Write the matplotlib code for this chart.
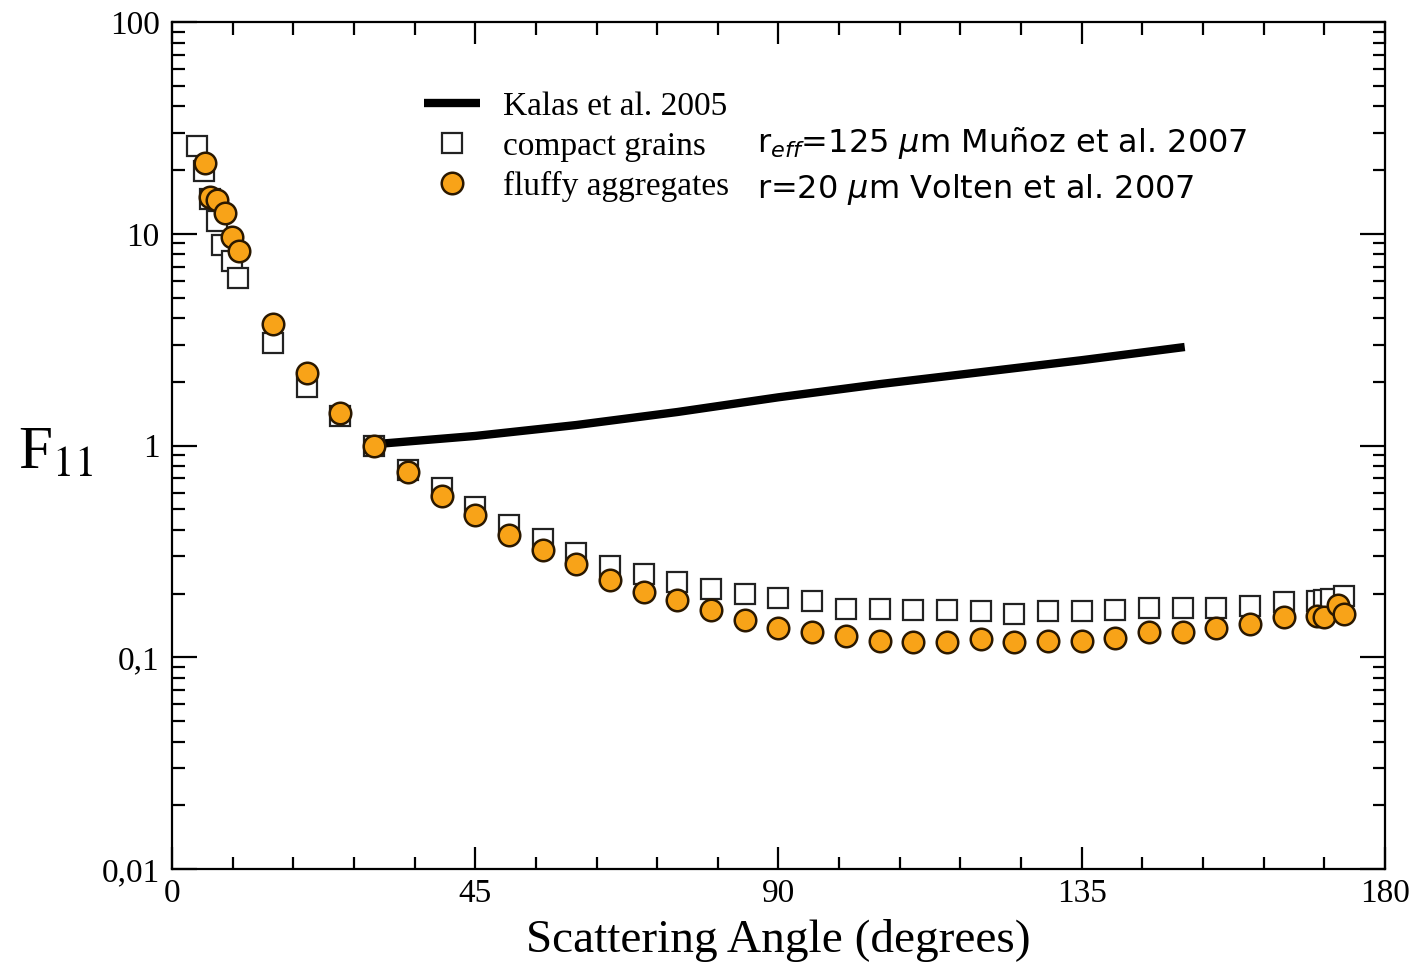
import matplotlib
matplotlib.use('Agg')
import matplotlib.pyplot as plt
from matplotlib.ticker import MultipleLocator, LogLocator, FixedLocator, FixedFormatter

# compact grains (Munoz et al. 2007)
compact_angle = [3.7, 4.8, 5.6, 6.7, 7.4, 8.9, 9.8, 15, 20, 25, 30, 35, 40, 45, 50, 55,
                 60, 65, 70, 75, 80, 85, 90, 95, 100, 105, 110, 115, 120, 125, 130, 135,
                 140, 145, 150, 155, 160, 165, 170, 171, 172, 174]
compact_f11 = [26, 19.8, 14.6, 11.5, 8.9, 7.4, 6.2, 3.05, 1.89, 1.38, 1.0, 0.765, 0.63,
               0.51, 0.42, 0.36, 0.31, 0.27, 0.247, 0.226, 0.21, 0.199, 0.19, 0.185,
               0.169, 0.169, 0.167, 0.167, 0.166, 0.16, 0.166, 0.165, 0.167, 0.171,
               0.171, 0.171, 0.175, 0.182, 0.185, 0.187, 0.188, 0.195]

# fluffy aggregates (Volten et al. 2007)
fluffy_angle = [4.9, 5.6, 6.7, 7.9, 8.9, 9.9, 15, 20, 25, 30, 35, 40, 45, 50, 55, 60,
                65, 70, 75, 80, 85, 90, 95, 100, 105, 110, 115, 120, 125, 130, 135, 140,
                145, 150, 155, 160, 165, 170, 171, 173, 174]
fluffy_f11 = [21.6, 14.9, 14.4, 12.5, 9.7, 8.3, 3.75, 2.2, 1.42, 1.0, 0.75, 0.578, 0.47,
              0.377, 0.32, 0.275, 0.232, 0.203, 0.186, 0.167, 0.15, 0.137, 0.132, 0.126,
              0.12, 0.118, 0.118, 0.122, 0.118, 0.12, 0.12, 0.123, 0.132, 0.132, 0.137,
              0.144, 0.155, 0.156, 0.155, 0.177, 0.16]

# Kalas et al. 2005
kalas_angle = [30.9, 45, 60, 75, 90, 105, 120, 135, 150.3]
kalas_f11 = [1.02, 1.11, 1.25, 1.44, 1.69, 1.95, 2.22, 2.53, 2.92]

ytick_vals = [0.01, 0.1, 1, 10, 100]
ytick_text = ['0,01', '0,1', '1', '10', '100']
xtick_vals = [0, 45, 90, 135, 180]

#+++++++++++++++++++++++++++++++++++++++++++++++++++++++++++++++++++++++++++++#

plt.rcParams['font.family'] = ['Liberation Serif', 'DejaVu Serif']

fig = plt.figure( figsize = ( 14.16, 9.67 ), dpi = 100 )
ax = fig.add_axes( [ 0.1215, 0.1013, 0.8565, 0.8759 ] )

ax.plot( kalas_angle, kalas_f11, '-', color = 'black', lw = 6,
         solid_capstyle = 'butt', label = 'Kalas et al. 2005', zorder = 2 )
ax.plot( compact_angle, compact_f11, 's', ms = 15, mfc = 'white', mec = '#222222',
         mew = 1.6, ls = 'none', label = 'compact grains', zorder = 3 )
ax.plot( fluffy_angle, fluffy_f11, 'o', ms = 15.5, mfc = '#f8a318', mec = '#2a1800',
         mew = 1.8, ls = 'none', label = 'fluffy aggregates', zorder = 4 )

ax.set_yscale( 'log' )
ax.set_xlim( 0, 180 )
ax.set_ylim( 0.01, 100 )

ax.xaxis.set_major_locator( FixedLocator( xtick_vals ) )
ax.xaxis.set_minor_locator( MultipleLocator( 9 ) )
ax.yaxis.set_major_locator( FixedLocator( ytick_vals ) )
ax.yaxis.set_major_formatter( FixedFormatter( ytick_text ) )
ax.yaxis.set_minor_locator( LogLocator( base = 10, subs = range( 2, 10 ) ) )
ax.yaxis.set_minor_formatter( plt.NullFormatter( ) )

ax.tick_params( which = 'both', direction = 'in', top = True, right = True,
                width = 1.6, labelsize = 24 )
ax.tick_params( axis = 'x', which = 'major', length = 16, pad = 7 )
ax.tick_params( axis = 'x', which = 'minor', length = 9 )
ax.tick_params( axis = 'y', which = 'major', length = 18, pad = 9 )
ax.tick_params( axis = 'y', which = 'minor', length = 9 )
for sp in ax.spines.values( ):
    sp.set_linewidth( 1.6 )

ax.set_xlabel( 'Scattering Angle (degrees)', fontsize = 34, labelpad = 7 )
fig.text( 0.013, 0.53, r'F$_{11}$', fontsize = 44, math_fontfamily = 'stix',
          va = 'center', ha = 'left' )

ax.legend( loc = 'upper left', bbox_to_anchor = ( 0.2075, 0.918 ), frameon = False,
           fontsize = 24, handlelength = 1.7, handletextpad = 0.69,
           labelspacing = 0.27, borderpad = 0, borderaxespad = 0 )

fig.text( 0.5346, 0.8428, r'r$_{eff}$=125 $\mu$m Muñoz et al. 2007', fontsize = 23,
          family = 'DejaVu Sans', math_fontfamily = 'dejavusans', va = 'baseline' )
fig.text( 0.5346, 0.7952, r'r=20 $\mu$m Volten et al. 2007', fontsize = 23,
          family = 'DejaVu Sans', math_fontfamily = 'dejavusans', va = 'baseline' )

fig.savefig( 'out.png', dpi = 100 )
